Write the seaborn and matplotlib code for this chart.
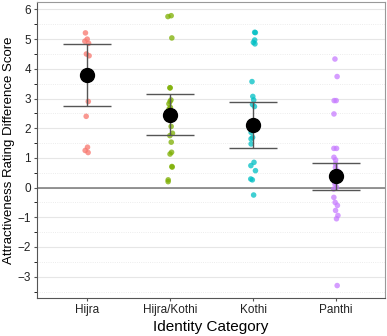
import numpy as np
import pandas as pd
import seaborn as sns
import matplotlib.pyplot as plt
from matplotlib.ticker import MultipleLocator

# Data
categories = ['Hijra', 'Hijra/Kothi', 'Kothi', 'Panthi']
hijra = [5.21, 5.0, 4.93, 4.86, 4.5, 4.44, 2.9, 2.4, 1.36, 1.25, 1.18]
hijra_kothi = [5.79, 5.76, 5.04, 3.36, 3.36, 2.95, 2.9, 2.82, 2.7, 2.65, 2.55,
               2.5, 2.4, 2.06, 1.83, 1.75, 1.53, 1.19, 1.13, 0.71, 0.69, 0.26, 0.2]
kothi = [5.23, 5.22, 4.97, 4.89, 4.84, 3.57, 3.07, 2.95, 2.8, 2.73, 2.2, 2.0,
         1.86, 1.69, 1.64, 1.47, 0.85, 0.74, 0.57, 0.29, 0.26, -0.25]
panthi = [4.33, 3.74, 2.93, 2.93, 2.48, 1.32, 1.32, 1.02, 0.93, 0.8, 0.68, 0.55,
          0.45, 0.35, 0.3, 0.18, 0.12, 0.01, -0.05, -0.33, -0.5, -0.6, -0.77,
          -0.94, -1.05, -3.3]
means = [3.8, 2.45, 2.1, 0.4]
lower = [2.75, 1.78, 1.33, -0.07]
upper = [4.85, 3.15, 2.88, 0.83]
palette = ['#F8766D', '#7CAE00', '#00BFC4', '#C77CFF']

df = pd.DataFrame({
    'Identity Category': (['Hijra'] * len(hijra) + ['Hijra/Kothi'] * len(hijra_kothi)
                          + ['Kothi'] * len(kothi) + ['Panthi'] * len(panthi)),
    'Score': hijra + hijra_kothi + kothi + panthi,
})

plt.rcParams['font.family'] = ['Liberation Sans', 'DejaVu Sans']
fig = plt.figure(figsize=(3.87, 3.36), dpi=100)
ax = fig.add_axes([0.096, 0.113, 0.899, 0.881])

# grid
ax.yaxis.set_major_locator(MultipleLocator(1))
ax.yaxis.set_minor_locator(MultipleLocator(0.5))
ax.grid(which='major', color='#E6E6E6', lw=0.8)
ax.grid(which='minor', axis='y', color='#E6E6E6', lw=0.6, ls=':')
ax.set_axisbelow(True)
ax.axhline(0, color='#777777', lw=1.1, zorder=1)

sns.stripplot(data=df, x='Identity Category', y='Score', hue='Identity Category',
              palette=palette, order=categories, jitter=0.03, size=4,
              alpha=0.75, linewidth=0, legend=False, ax=ax, zorder=2)

# mean and error bars
xpos = np.arange(len(categories))
m = np.array(means)
yerr = [m - np.array(lower), np.array(upper) - m]
ax.errorbar(xpos, m, yerr=yerr, fmt='o', color='black', ms=10,
            ecolor='#555555', elinewidth=1, capsize=17, capthick=1, zorder=4)

ax.set_xlim(-0.6, 3.59)
ax.set_ylim(-3.72, 6.25)
ax.set_xlabel('Identity Category', fontsize=11, labelpad=3)
ax.set_ylabel('Attractiveness Rating Difference Score', fontsize=9.5, labelpad=2)
ax.tick_params(axis='both', labelsize=8.5, labelcolor='#222222', length=2.5,
               color='#555555', pad=2)

for s in ['top', 'right']:
    ax.spines[s].set_color('#999999')
    ax.spines[s].set_linewidth(0.8)
for s in ['left', 'bottom']:
    ax.spines[s].set_color('#555555')

plt.savefig('out.png', dpi=100)
